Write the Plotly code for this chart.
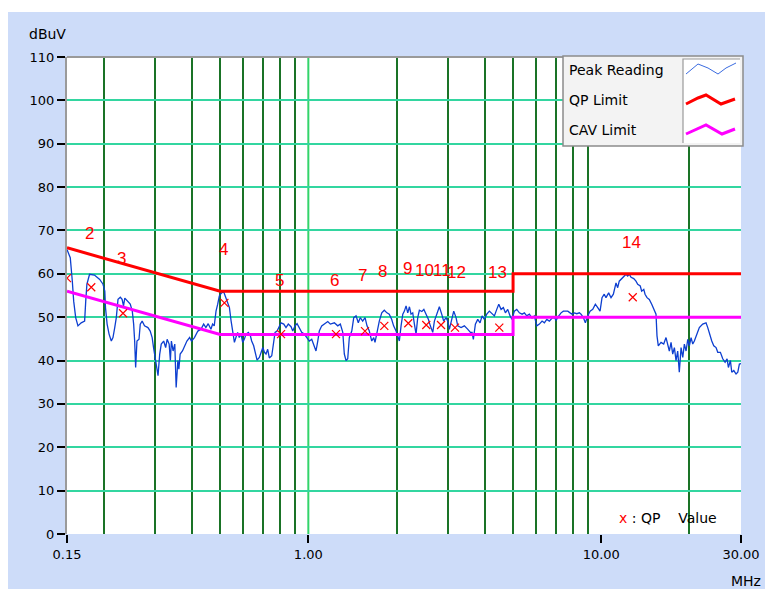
import numpy as np
import plotly.graph_objects as go

# ---------------- data ----------------
peak_freq = [
    0.150, 0.1539, 0.1564, 0.1581, 0.1606, 0.1635, 0.1677, 0.1723, 0.1738, 0.1754,
    0.1791, 0.1861, 0.1940, 0.1991, 0.2019, 0.2030, 0.2056, 0.2088, 0.2125, 0.2153,
    0.2183, 0.2210, 0.2240, 0.2281, 0.2313, 0.2339, 0.2363, 0.2423, 0.2466, 0.2506,
    0.2533, 0.2553, 0.2573, 0.2600, 0.2642, 0.2668, 0.2708, 0.2759, 0.2834, 0.2885,
    0.2930, 0.2962, 0.2999, 0.3044, 0.3068, 0.3109, 0.3147, 0.3207, 0.3258, 0.3296,
    0.3348, 0.3381, 0.3408, 0.3454, 0.3500, 0.3538, 0.3586, 0.3614, 0.3651, 0.3718,
    0.3788, 0.3850, 0.3933, 0.3990, 0.4085, 0.4196, 0.4300, 0.4392, 0.4470, 0.4551,
    0.4650, 0.4712, 0.4772, 0.4840, 0.4905, 0.4967, 0.5058, 0.5138, 0.5203, 0.5310,
    0.5378, 0.5450, 0.5523, 0.5593, 0.5660, 0.5736, 0.5809, 0.5890, 0.5969, 0.6045,
    0.6130, 0.6241, 0.6341, 0.6405, 0.6507, 0.6589, 0.6682, 0.6804, 0.6900, 0.6993,
    0.7081, 0.7170, 0.7266, 0.7359, 0.7501, 0.7621, 0.7698, 0.7821, 0.7964, 0.8070,
    0.8244, 0.8390, 0.8543, 0.8730, 0.8847, 0.9008, 0.9152, 0.9319, 0.9492, 0.9688,
    0.9898, 1.008, 1.027, 1.043, 1.062, 1.077, 1.090, 1.111, 1.134, 1.165,
    1.189, 1.227, 1.260, 1.286, 1.311, 1.327, 1.345, 1.363, 1.380, 1.407,
    1.429, 1.455, 1.481, 1.504, 1.533, 1.562, 1.586, 1.615, 1.646, 1.672,
    1.689, 1.716, 1.747, 1.781, 1.817, 1.855, 1.889, 1.925, 1.955, 1.993,
    2.019, 2.045, 2.073, 2.101, 2.128, 2.156, 2.185, 2.214, 2.242, 2.272,
    2.302, 2.332, 2.363, 2.394, 2.441, 2.480, 2.523, 2.569, 2.609, 2.659,
    2.694, 2.751, 2.801, 2.853, 2.898, 2.952, 2.991, 3.030, 3.087, 3.136,
    3.194, 3.236, 3.322, 3.410, 3.504, 3.576, 3.622, 3.659, 3.718, 3.788,
    3.857, 3.919, 3.990, 4.066, 4.150, 4.239, 4.317, 4.398, 4.469, 4.550,
    4.633, 4.707, 4.795, 4.883, 4.961, 5.051, 5.147, 5.254, 5.367, 5.465,
    5.568, 5.684, 5.805, 5.911, 6.024, 6.149, 6.280, 6.395, 6.517, 6.651,
    6.794, 6.918, 7.011, 7.162, 7.292, 7.425, 7.585, 7.687, 7.827, 7.951,
    8.096, 8.249, 8.420, 8.533, 8.688, 8.827, 8.994, 9.158, 9.355, 9.549,
    9.730, 9.907, 10.06, 10.24, 10.38, 10.60, 10.80, 11.00, 11.23, 11.38,
    11.52, 11.68, 11.84, 11.99, 12.15, 12.31, 12.47, 12.64, 12.91, 13.14,
    13.32, 13.59, 13.74, 13.97, 14.11, 14.33, 14.59, 14.87, 15.18, 15.38,
    15.50, 15.66, 16.00, 16.34, 16.64, 16.86, 17.08, 17.31, 17.54, 17.77,
    18.00, 18.24, 18.47, 18.73, 18.98, 19.22, 19.48, 19.74, 19.99, 20.26,
    20.53, 20.79, 21.24, 21.62, 22.20, 22.79, 23.10, 23.39, 23.84, 24.22,
    24.66, 24.99, 25.51, 25.99, 26.47, 26.89, 27.17, 27.60, 27.90, 28.35,
    28.86, 29.25, 29.62, 30.00,
]
peak_db = [
    65.6, 63.7, 58.3, 53.7, 49.9, 48.0, 48.7, 49.1, 53.7, 57.6,
    59.9, 59.7, 58.7, 57.6, 56.0, 52.2, 48.4, 46.1, 44.5, 45.3,
    47.6, 49.9, 54.1, 54.6, 54.1, 52.6, 54.4, 53.6, 53.0, 51.4,
    48.4, 44.5, 38.4, 44.5, 44.9, 48.4, 49.1, 48.0, 47.6, 46.8,
    45.3, 43.0, 40.7, 38.4, 36.5, 41.5, 43.8, 44.5, 43.0, 44.9,
    43.8, 40.0, 44.5, 42.2, 43.8, 33.8, 40.0, 38.0, 41.5, 42.2,
    43.4, 44.5, 45.3, 44.5, 45.3, 46.8, 47.2, 48.4, 47.6, 48.5,
    47.2, 48.4, 48.0, 51.4, 53.0, 54.9, 55.6, 55.9, 54.9, 53.3,
    52.2, 49.1, 46.1, 44.2, 45.3, 46.5, 45.3, 46.1, 44.2, 44.9,
    46.1, 46.5, 45.7, 44.5, 43.4, 41.9, 40.1, 40.7, 42.2, 43.0,
    41.9, 41.5, 42.6, 40.6, 41.1, 44.5, 46.5, 46.8, 48.0, 48.7,
    48.4, 47.6, 48.4, 47.8, 46.8, 48.0, 48.5, 47.6, 46.5, 46.1,
    45.3, 44.5, 44.9, 43.4, 42.2, 44.5, 46.8, 48.0, 48.4, 49.0,
    48.4, 48.7, 48.0, 48.4, 46.5, 41.5, 40.0, 40.4, 45.3, 46.8,
    49.9, 50.3, 48.7, 49.9, 49.1, 49.9, 48.0, 46.8, 44.5, 45.3,
    44.2, 46.5, 49.1, 51.0, 51.6, 51.0, 50.7, 49.5, 48.0, 46.8,
    45.3, 44.5, 48.0, 50.7, 51.4, 52.6, 51.0, 52.4, 50.7, 51.0,
    48.4, 46.1, 49.9, 51.6, 51.3, 51.8, 50.7, 49.5, 48.0, 46.5,
    49.1, 50.7, 52.4, 50.7, 49.1, 49.9, 49.1, 47.2, 49.9, 51.4,
    49.9, 48.0, 47.6, 48.0, 47.2, 46.5, 46.5, 44.9, 48.4, 49.5,
    48.7, 50.3, 49.5, 50.7, 51.4, 50.7, 50.3, 51.8, 53.0, 51.8,
    52.2, 51.0, 51.8, 50.3, 49.5, 51.4, 51.8, 51.0, 50.7, 51.0,
    50.3, 50.7, 49.8, 50.3, 48.0, 48.4, 49.1, 48.7, 49.5, 49.1,
    49.8, 49.9, 49.3, 50.3, 51.0, 51.4, 51.3, 51.4, 51.0, 50.7,
    51.0, 50.8, 51.0, 50.7, 49.9, 48.7, 50.3, 51.4, 51.8, 53.0,
    52.2, 51.4, 54.5, 55.3, 54.5, 55.6, 54.5, 55.3, 57.9, 56.8,
    58.3, 58.7, 59.1, 59.5, 59.9, 59.5, 59.9, 59.2, 58.9, 58.3,
    57.6, 57.2, 56.0, 56.4, 55.3, 54.5, 54.1, 53.0, 51.8, 50.7,
    45.7, 43.4, 44.2, 43.8, 45.3, 43.8, 42.2, 44.2, 41.5, 43.0,
    40.0, 42.2, 37.3, 43.0, 40.7, 43.8, 42.2, 44.9, 43.4, 45.3,
    43.8, 44.5, 46.5, 47.6, 48.4, 48.7, 47.6, 46.1, 44.5, 43.4,
    43.0, 41.9, 41.9, 40.4, 39.6, 40.4, 38.4, 40.0, 37.3, 37.7,
    36.9, 37.3, 39.2, 39.3,
]

qp_limit_freq = [0.15, 0.5, 5, 5, 30]
qp_limit_db = [66, 56, 56, 60, 60]
cav_limit_freq = [0.15, 0.5, 5, 5, 30]
cav_limit_db = [56, 46, 46, 50, 50]

qp_freq = [0.150, 0.1815, 0.233, 0.517, 0.807, 1.243, 1.561, 1.817, 2.194,
           2.527, 2.838, 3.168, 4.487, 12.81]
qp_db = [59.0, 56.9, 50.9, 53.3, 46.1, 46.1, 46.8, 48.0, 48.6, 48.2, 48.2,
         47.6, 47.6, 54.6]

label_text = ["2", "3", "4", "5", "6", "7", "8", "9", "10", "11", "12", "13", "14"]
label_freq = [0.179, 0.231, 0.514, 0.798, 1.23, 1.533, 1.794, 2.174, 2.49,
              2.87, 3.194, 4.43, 12.64]
label_db = [69.4, 63.5, 65.6, 58.5, 58.5, 59.5, 60.5, 61.2, 60.8, 60.8,
            60.2, 60.2, 67.3]

y_tick_vals = list(range(0, 111, 10))
y_grid_vals = list(range(10, 101, 10))
x_tick_vals = [0.15, 1, 10, 30]
x_tick_text = ["0.15", "1.00", "10.00", "30.00"]
x_grid_dark = [0.2, 0.3, 0.4, 0.5, 0.6, 0.7, 0.8, 0.9, 2, 3, 4, 5, 6, 7, 8, 9, 20]
x_grid_light = [1, 10]

legend_names = ["Peak Reading", "QP Limit", "CAV Limit"]

# ---------------- styling / geometry ----------------
W, H = 773, 589
OFF = 7                       # page offset of the figure inside the window
L, R, T, B = 59, 40, 49, 63
PW, PH = W - L - R, H - T - B
BLUE = "#0d3fd0"
RED = "#ff0000"
MAG = "#ff00ff"
BG = "#cddcf9"
FONT = "DejaVu Sans"


def px(xp):
    """window pixel x -> paper fraction"""
    return (xp - OFF - L) / PW


def py(yp):
    """window pixel y -> paper fraction"""
    return (H - B - (yp - OFF)) / PH


fig = go.Figure()

fig.add_trace(go.Scatter(x=peak_freq, y=peak_db, mode="lines",
                         line=dict(color=BLUE, width=1.3), name=legend_names[0],
                         showlegend=False))
fig.add_trace(go.Scatter(x=cav_limit_freq, y=cav_limit_db, mode="lines",
                         line=dict(color=MAG, width=3), name=legend_names[2],
                         showlegend=False))
fig.add_trace(go.Scatter(x=qp_limit_freq, y=qp_limit_db, mode="lines",
                         line=dict(color=RED, width=3), name=legend_names[1],
                         showlegend=False))
fig.add_trace(go.Scatter(x=qp_freq, y=qp_db, mode="markers",
                         marker=dict(symbol="x-thin", size=8,
                                     line=dict(color=RED, width=1.2)),
                         showlegend=False))

annotations = []
for t, f, v in zip(label_text, label_freq, label_db):
    annotations.append(dict(x=np.log10(f), y=v, xref="x", yref="y", text=t,
                            showarrow=False,
                            font=dict(family="Liberation Sans", size=17, color=RED)))

shapes = []
# thin white strip at the very top
shapes.append(dict(type="rect", xref="paper", yref="paper", layer="below",
                   x0=px(0), x1=px(W + OFF), y0=py(11), y1=py(0),
                   fillcolor="white", line=dict(width=0)))
# light green decade lines
for v in x_grid_light:
    shapes.append(dict(type="line", xref="x", yref="paper", layer="below",
                       x0=np.log10(v), x1=np.log10(v), y0=0, y1=1,
                       line=dict(color="#33d46a", width=2)))
# top border
shapes.append(dict(type="line", xref="paper", yref="paper", layer="above",
                   x0=0, x1=1, y0=1, y1=1, line=dict(color="#9a9a9a", width=2)))

# custom legend box
shapes.append(dict(type="rect", xref="paper", yref="paper", layer="above",
                   x0=px(562), x1=px(742), y0=py(145), y1=py(55),
                   fillcolor="#f3f3f3", line=dict(color="#8c8c8c", width=1.5)))
shapes.append(dict(type="rect", xref="paper", yref="paper", layer="above",
                   x0=px(682), x1=px(739), y0=py(142), y1=py(58),
                   fillcolor="white", line=dict(width=0)))
shapes.append(dict(type="path", xref="paper", yref="paper", layer="above",
                   path=f"M {px(682)} {py(142)} L {px(682)} {py(58)} L {px(739)} {py(58)}",
                   line=dict(color="#9a9a9a", width=1.2)))


def wave(points):
    return "M " + " L ".join(f"{px(a)} {py(b)}" for a, b in points)


shapes.append(dict(type="path", xref="paper", yref="paper", layer="above",
                   path=wave([(685, 73), (697, 63), (707, 67), (717, 73),
                              (725, 67), (735, 62)]),
                   line=dict(color="#3a6be0", width=1)))
shapes.append(dict(type="path", xref="paper", yref="paper", layer="above",
                   path=wave([(685, 103), (697, 97), (705, 94), (720, 103),
                              (734, 98)]),
                   line=dict(color=RED, width=3)))
shapes.append(dict(type="path", xref="paper", yref="paper", layer="above",
                   path=wave([(685, 133), (705, 124), (721, 133), (734, 128)]),
                   line=dict(color=MAG, width=3)))

for name, yy in zip(legend_names, [69, 99, 129]):
    annotations.append(dict(x=px(566), y=py(yy), xref="paper", yref="paper",
                            text=name, showarrow=False, xanchor="left",
                            yanchor="middle",
                            font=dict(family=FONT, size=14, color="black")))

annotations.append(dict(x=px(616), y=py(517), xref="paper", yref="paper",
                        text="<span style='color:red'>x</span> : QP&nbsp;&nbsp;&nbsp;&nbsp;Value",
                        showarrow=False, xanchor="left", yanchor="middle",
                        font=dict(family=FONT, size=14, color="black")))
annotations.append(dict(x=px(46), y=py(33), xref="paper", yref="paper",
                        text="dBuV", showarrow=False, xanchor="center",
                        yanchor="middle",
                        font=dict(family=FONT, size=14, color="black")))
annotations.append(dict(x=px(745), y=py(580), xref="paper", yref="paper",
                        text="MHz", showarrow=False, xanchor="center",
                        yanchor="middle",
                        font=dict(family=FONT, size=14, color="black")))

fig.update_layout(
    width=W, height=H, autosize=False,
    margin=dict(l=L, r=R, t=T, b=B, pad=0),
    paper_bgcolor=BG, plot_bgcolor="white",
    showlegend=False,
    font=dict(family=FONT, size=13, color="black"),
    shapes=shapes, annotations=annotations,
    xaxis=dict(type="log", range=[np.log10(0.15), np.log10(30)],
               tickmode="array", tickvals=x_tick_vals, ticktext=x_tick_text,
               ticks="outside", ticklen=8, tickwidth=1.5, tickcolor="black",
               showgrid=False, zeroline=False, showline=False,
               tickfont=dict(family=FONT, size=13),
               minor=dict(tickmode="array", tickvals=x_grid_dark, ticks="",
                          showgrid=True, gridcolor="#1a7326", gridwidth=2)),
    yaxis=dict(range=[0, 110], tickmode="array", tickvals=y_tick_vals,
               ticks="outside", ticklen=8, tickwidth=1.5, tickcolor="black",
               showgrid=False, zeroline=False,
               showline=True, linecolor="#9a9a9a", linewidth=2,
               tickfont=dict(family=FONT, size=13),
               minor=dict(tickmode="array", tickvals=y_grid_vals, ticks="",
                          showgrid=True, gridcolor="#33d6a0", gridwidth=2)),
)

fig.write_html("out.html")
